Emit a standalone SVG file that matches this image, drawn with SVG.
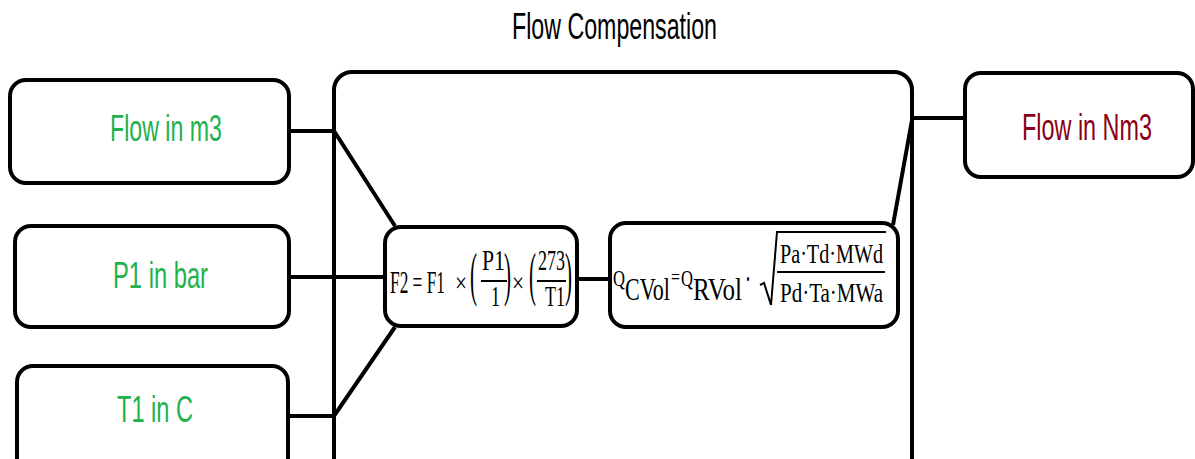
<svg xmlns="http://www.w3.org/2000/svg" width="1195" height="459" viewBox="0 0 1195 459">
<style>
.box{fill:#fff;stroke:#000;stroke-width:4}
.lbl{font-family:"Liberation Sans",Arial,sans-serif;font-size:36px}
.green{fill:#22B14C}
.red{fill:#880015}
.f{font-family:"Liberation Serif","Times New Roman",serif;fill:#000}
.ln{stroke:#000;stroke-width:4;fill:none}
.thin{stroke:#000;stroke-width:2;fill:none}
</style>
<rect width="1195" height="459" fill="#fff"/>
<text x="512" y="39" class="lbl" textLength="205" lengthAdjust="spacingAndGlyphs">Flow Compensation</text>

<g id="compensation">
  <rect class="box" x="334" y="72" width="578" height="430" rx="18"/>
</g>

<g id="connectors">
  <path class="ln" d="M290 131H334L395 226"/>
  <path class="ln" d="M290 277H385"/>
  <path class="ln" d="M290 416H334L395 327"/>
  <path class="ln" d="M577 279H610"/>
  <path class="ln" d="M893 225L912 120"/>
  <path class="ln" d="M912 118H965"/>
</g>

<g id="flow-m3">
  <rect class="box" x="10" y="80" width="279" height="103" rx="16"/>
  <text x="110" y="141" class="lbl green" textLength="112" lengthAdjust="spacingAndGlyphs">Flow in m3</text>
</g>

<g id="p1">
  <rect class="box" x="15" y="226" width="274" height="101" rx="16"/>
  <text x="113" y="288" class="lbl green" textLength="95" lengthAdjust="spacingAndGlyphs">P1 in bar</text>
</g>

<g id="t1">
  <rect class="box" x="17" y="366" width="271" height="110" rx="16"/>
  <text x="117" y="422" class="lbl green" textLength="76" lengthAdjust="spacingAndGlyphs">T1 in C</text>
</g>

<g id="flow-nm3">
  <rect class="box" x="965" y="73" width="228" height="104" rx="16"/>
  <text x="1022" y="140" class="lbl red" textLength="130" lengthAdjust="spacingAndGlyphs">Flow in Nm3</text>
</g>

<g id="formula1">
  <rect class="box" x="385" y="227" width="192" height="99" rx="16"/>
  <text x="390" y="293" class="f" font-size="31" textLength="55" lengthAdjust="spacingAndGlyphs">F2 = F1</text>
  <text x="455" y="292" class="f" font-size="28" textLength="12" lengthAdjust="spacingAndGlyphs">×</text>
  <text x="470" y="294" class="f" font-size="60" textLength="7" lengthAdjust="spacingAndGlyphs">(</text>
  <text x="482" y="270" class="f" font-size="29" textLength="23" lengthAdjust="spacingAndGlyphs">P1</text>
  <line class="thin" x1="481" y1="281" x2="507" y2="281"/>
  <text x="491" y="306" class="f" font-size="29" textLength="9" lengthAdjust="spacingAndGlyphs">1</text>
  <text x="504" y="294" class="f" font-size="60" textLength="7" lengthAdjust="spacingAndGlyphs">)</text>
  <text x="512" y="292" class="f" font-size="28" textLength="12" lengthAdjust="spacingAndGlyphs">×</text>
  <text x="529" y="294" class="f" font-size="60" textLength="7" lengthAdjust="spacingAndGlyphs">(</text>
  <text x="538" y="270" class="f" font-size="29" textLength="27" lengthAdjust="spacingAndGlyphs">273</text>
  <line class="thin" x1="537" y1="281" x2="566" y2="281"/>
  <text x="545" y="306" class="f" font-size="29" textLength="20" lengthAdjust="spacingAndGlyphs">T1</text>
  <text x="565" y="294" class="f" font-size="60" textLength="7" lengthAdjust="spacingAndGlyphs">)</text>
</g>

<g id="formula2">
  <rect class="box" x="610" y="223" width="288" height="104" rx="16"/>
  <text x="613" y="286" class="f" font-size="24" textLength="12" lengthAdjust="spacingAndGlyphs">Q</text>
  <text x="625" y="300" class="f" font-size="31" textLength="45" lengthAdjust="spacingAndGlyphs">CVol</text>
  <text x="671" y="284" class="f" font-size="22" textLength="9" lengthAdjust="spacingAndGlyphs">=</text>
  <text x="681" y="286" class="f" font-size="24" textLength="12" lengthAdjust="spacingAndGlyphs">Q</text>
  <text x="693" y="300" class="f" font-size="31" textLength="49" lengthAdjust="spacingAndGlyphs">RVol</text>
  <text x="745" y="290" class="f" font-size="34" textLength="6" lengthAdjust="spacingAndGlyphs">·</text>
  <path class="thin" d="M760 285L764 283L771 305L777 232H886"/>
  <text x="780" y="263" class="f" font-size="28" textLength="103" lengthAdjust="spacingAndGlyphs">Pa·Td·MWd</text>
  <line class="thin" x1="777" y1="272" x2="885" y2="272"/>
  <text x="780" y="302" class="f" font-size="28" textLength="103" lengthAdjust="spacingAndGlyphs">Pd·Ta·MWa</text>
</g>
</svg>
